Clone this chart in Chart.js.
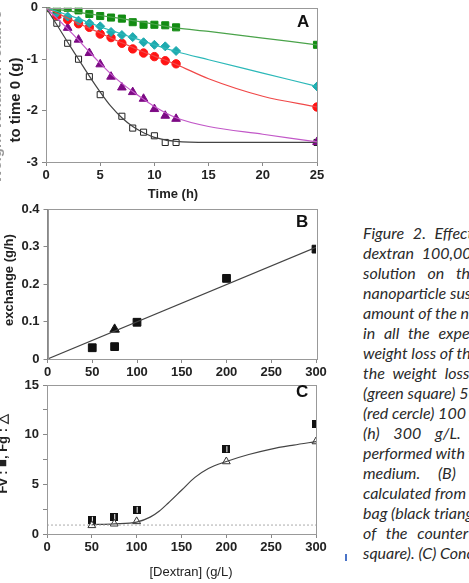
<!DOCTYPE html>
<html>
<head>
<meta charset="utf-8">
<script src="https://cdn.jsdelivr.net/npm/chart.js@4.4.1/dist/chart.umd.min.js"></script>
<style>
  html, body { margin: 0; padding: 0; background: #fff; width: 469px; height: 583px; overflow: hidden; position: relative; }
  canvas { position: absolute; left: 0; }
  .t { position: absolute; font-family: "Liberation Sans", Arial, sans-serif; color: #222; white-space: nowrap; line-height: 1; }
  .yt { transform: translate(-50%, -50%) rotate(-90deg); }
  .xt { transform: translate(-50%, -50%); }
  .lab { position: absolute; font: bold 17px "Liberation Sans", Arial, sans-serif; line-height: 1; color: #111; }
  #cap { position: absolute; left: 363px; top: 223px; font: italic 16px Lato, sans-serif; line-height: 20px; color: #2a2a2a; }
  #cap div { white-space: nowrap; }
  #blue { position: absolute; left: 345px; top: 554px; width: 2px; height: 7px; background: #4a74c8; }
</style>
</head>
<body>
<canvas id="chartA" width="340" height="190" style="top:-4px"></canvas>
<canvas id="chartB" width="340" height="190" style="top:196px"></canvas>
<canvas id="chartC" width="340" height="200" style="top:372px"></canvas>

<div class="t yt" style="left:-5px;top:97px;font-weight:bold;font-size:15px;color:#999">Weight variation relative</div>
<div class="t yt" style="left:14px;top:100px;font-weight:bold;font-size:15px">to time 0 (g)</div>
<div class="t xt" style="left:173px;top:193px;font-weight:bold;font-size:13px">Time (h)</div>
<div class="t yt" style="left:8px;top:280px;font-weight:bold;font-size:13px">exchange (g/h)</div>
<div class="t yt" style="left:2px;top:454px;font-weight:bold;font-size:13px">Fv : ■, Fg : △</div>
<div class="t xt" style="left:191px;top:571px;font-size:13px">[Dextran] (g/L)</div>

<div class="lab" style="left:297px;top:13px">A</div>
<div class="lab" style="left:296px;top:213px">B</div>
<div class="lab" style="left:296px;top:383px">C</div>

<div id="cap">
  <div style="word-spacing:5px">Figure 2. Effect of</div>
  <div style="word-spacing:4px">dextran 100,000</div>
  <div style="word-spacing:8px">solution on the</div>
  <div>nanoparticle suspension</div>
  <div>amount of the nanoparticle</div>
  <div style="word-spacing:5px">in all the experiments</div>
  <div>weight loss of the</div>
  <div style="word-spacing:4px">the weight loss</div>
  <div>(green square) 50 g/L</div>
  <div>(red cercle) 100 g/L</div>
  <div style="word-spacing:10px">(h) 300 g/L. All</div>
  <div>performed with the</div>
  <div style="word-spacing:14px">medium. (B) Water</div>
  <div>calculated from the</div>
  <div>bag (black triangle)</div>
  <div style="word-spacing:6px">of the counter</div>
  <div>square). (C) Concentration</div>
</div>
<div id="blue"></div>

<script>
// Panel A: weight change vs time, one series per dextran concentration
const hoursMarked = [0, 1, 2, 3, 4, 5, 6, 7, 8, 9, 10, 11, 12, 25];
const green50 = [0, -0.03, 0, -0.05, -0.12, -0.16, -0.19, -0.21, -0.28, -0.33, -0.33, -0.34, -0.38, -0.72];
const cyan75 = [0, -0.10, -0.17, -0.25, -0.30, -0.36, -0.47, -0.53, -0.57, -0.67, -0.72, -0.75, -0.84, -1.53];
const red100 = [0, -0.15, -0.23, -0.31, -0.38, -0.51, -0.58, -0.69, -0.80, -0.88, -0.95, -1.03, -1.09, -1.93];
const purple200 = [0, -0.15, -0.39, -0.62, -0.88, -1.10, -1.34, -1.55, -1.64, -1.77, -1.97, -2.10, -2.16, -2.61];
const open300 = [0, -0.30, -0.69, -1.00, -1.34, -1.69, null, -2.11, -2.34, -2.42, -2.49, -2.62, -2.62, -2.62];

// fitted curves
const fitHours = [0, 1, 2, 3, 4, 5, 6, 7, 8, 9, 10, 12, 15, 20, 25];
const greenFit = [0, -0.03, -0.06, -0.09, -0.12, -0.15, -0.18, -0.21, -0.25, -0.28, -0.32, -0.39, -0.46, -0.59, -0.72];
const cyanFit = [0, -0.07, -0.14, -0.21, -0.29, -0.37, -0.44, -0.51, -0.58, -0.65, -0.72, -0.85, -1.01, -1.27, -1.53];
const redFit = [0, -0.10, -0.20, -0.30, -0.40, -0.49, -0.59, -0.68, -0.77, -0.86, -0.94, -1.10, -1.38, -1.72, -1.93];
const purpleFit = [0, -0.20, -0.41, -0.63, -0.86, -1.08, -1.29, -1.47, -1.63, -1.78, -1.92, -2.14, -2.31, -2.46, -2.61];
const blackFit = [0, -0.33, -0.67, -1.00, -1.33, -1.64, -1.92, -2.14, -2.31, -2.43, -2.52, -2.60, -2.62, -2.62, -2.62];

// Panel B: exchange rate vs dextran
const dexSquareB = [50, 75, 100, 200, 300];
const exchangeSquare = [0.030, 0.033, 0.098, 0.215, 0.293];
const dexTriB = [75];
const exchangeTri = [0.079];
const fitLineXB = [0, 300];
const fitLineYB = [0, 0.298];

// Panel C: concentration factors
const dexC = [50, 75, 100, 200, 300];
const fvSquare = [1.44, 1.71, 2.44, 8.54, 11.09];
const fgTri = [0.87, 1.03, 1.27, 7.30, 9.31];
const fitXC = [50, 75, 100, 115, 125, 135, 150, 165, 180, 200, 225, 250, 275, 300];
const fitYC = [0.95, 1.02, 1.2, 1.7, 2.3, 3.1, 4.4, 5.7, 6.6, 7.3, 8.0, 8.55, 8.95, 9.3];
const baseXC = [0, 300];
const baseYC = [0.9, 0.9];

const pts = (xs, ys) => xs.map((x, i) => ({ x: x, y: ys[i] }));

const tickFont = { family: '"Liberation Sans", Arial, sans-serif', size: 13, weight: 'bold' };

// box around the plot area
const frame = {
  id: 'frame',
  afterDraw(chart) {
    const a = chart.chartArea, ctx = chart.ctx;
    ctx.save();
    ctx.strokeStyle = '#999';
    ctx.lineWidth = 1;
    ctx.strokeRect(Math.round(a.left) + 0.5, Math.round(a.top) + 0.5, Math.round(a.right - a.left), Math.round(a.bottom - a.top));
    ctx.restore();
  }
};

function axis(min, max, step, size, isY, labelEvery) {
  const o = {
    type: 'linear', min: min, max: max,
    grid: { drawOnChartArea: false, drawTicks: true, tickLength: 4, color: '#888' },
    border: { display: true, color: '#888' },
    ticks: { stepSize: step, color: '#222', font: tickFont, padding: isY ? 4 : 2, maxRotation: 0, autoSkip: false },
    afterFit: s => { if (isY) s.width = size; else s.height = size; }
  };
  if (labelEvery) {
    // minor ticks keep their mark but lose the label
    o.ticks.callback = v => (Math.abs(v % labelEvery) < 1e-9 ? String(v) : '');
  }
  return o;
}

function baseOptions(padTop, padRight, scales) {
  return {
    responsive: false, animation: false,
    layout: { padding: { left: 0, top: padTop, right: padRight, bottom: 0 } },
    plugins: { legend: { display: false }, tooltip: { enabled: false } },
    scales: scales
  };
}

function fitLine(xs, ys, color) {
  return { data: pts(xs, ys), showLine: true, pointRadius: 0, borderColor: color, borderWidth: 1.2, cubicInterpolationMode: 'monotone', fill: false };
}

function marks(xs, ys, style, fillCol, lineCol, r) {
  return { data: pts(xs, ys), showLine: false, pointStyle: style, pointRadius: r, backgroundColor: fillCol, borderColor: lineCol, borderWidth: 1 };
}

// Panel A
new Chart(document.getElementById('chartA'), {
  type: 'scatter',
  data: {
    datasets: [
      fitLine(fitHours, greenFit, '#4aa34a'),
      fitLine(fitHours, cyanFit, '#2bb8b8'),
      fitLine(fitHours, redFit, '#f04848'),
      fitLine(fitHours, purpleFit, '#c258c8'),
      fitLine(fitHours, blackFit, '#444'),
      marks(hoursMarked, green50, 'rect', '#138c13', '#138c13', 5),
      marks(hoursMarked, cyan75, 'rectRot', '#1eaaaf', '#1eaaaf', 4.5),
      marks(hoursMarked, red100, 'circle', '#ff1414', '#ff1414', 4.2),
      marks(hoursMarked, purple200, 'triangle', '#7d0a85', '#7d0a85', 5),
      marks(hoursMarked, open300, 'rect', '#fff', '#222', 4.3)
    ]
  },
  options: baseOptions(11, 23, {
    x: axis(0, 25, 5, 24, false),
    y: axis(-3, 0, 1, 46, true)
  }),
  plugins: [frame]
});

// Panel B
new Chart(document.getElementById('chartB'), {
  type: 'scatter',
  data: {
    datasets: [
      fitLine(fitLineXB, fitLineYB, '#444'),
      marks(dexTriB, exchangeTri, 'triangle', '#111', '#111', 5.5),
      marks(dexSquareB, exchangeSquare, 'rect', '#111', '#111', 5.5)
    ]
  },
  options: baseOptions(13, 24, {
    x: axis(0, 300, 50, 27, false),
    y: axis(0, 0.4, 0.1, 47.5, true)
  }),
  plugins: [frame]
});

// split black square used in panel C
const splitSq = document.createElement('canvas');
splitSq.width = 8; splitSq.height = 8;
(function () {
  const c = splitSq.getContext('2d');
  c.fillStyle = '#111'; c.fillRect(0, 0, 8, 8);
  c.fillStyle = '#fff'; c.fillRect(4, 1, 1, 6);
})();

// Panel C
new Chart(document.getElementById('chartC'), {
  type: 'scatter',
  data: {
    datasets: [
      { data: pts(baseXC, baseYC), showLine: true, pointRadius: 0, borderColor: '#aaa', borderWidth: 1, borderDash: [2, 2] },
      fitLine(fitXC, fitYC, '#444'),
      marks(dexC, fgTri, 'triangle', '#fff', '#333', 4.5),
      marks(dexC, fvSquare, splitSq, '#111', '#111', 4)
    ]
  },
  options: baseOptions(13, 24, {
    x: axis(0, 300, 50, 38, false),
    y: axis(0, 15, 2.5, 47, true, 5)
  }),
  plugins: [frame]
});
</script>
</body>
</html>
